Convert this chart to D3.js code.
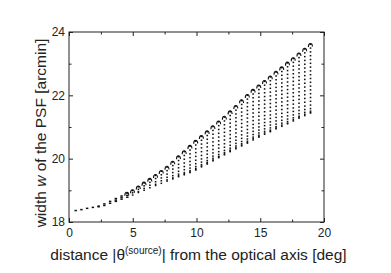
<!DOCTYPE html>
<html>
<head>
<meta charset="utf-8">
<script src="https://cdn.jsdelivr.net/npm/d3@7"></script>
<style>
  body { margin: 0; background: #fff; }
  svg { display: block; font-family: "Liberation Sans", Arial, Helvetica, sans-serif; }
</style>
</head>
<body>
<div id="chart"></div>
<script>
// PSF width vs. source distance from the optical axis

// column positions (deg) - one column of dots per source row
const colTheta = [0.5, 0.95, 1.4, 1.85, 2.3, 2.75, 3.2, 3.65, 4.1, 4.55, 5.0, 5.45, 5.9, 6.35, 6.8,
    7.25, 7.7, 8.15, 8.6, 9.05, 9.5, 9.95, 10.4, 10.85, 11.3, 11.75, 12.2, 12.65, 13.1, 13.55,
    14.0, 14.45, 14.9, 15.35, 15.8, 16.25, 16.7, 17.15, 17.6, 18.05, 18.5, 18.95];

// width w (arcmin) of the dots in each column, top to bottom
const colW = [
    [18.36],
    [18.39],
    [18.43],
    [18.46],
    [18.50, 18.48],
    [18.57, 18.52],
    [18.65, 18.59],
    [18.74, 18.69, 18.65],
    [18.82, 18.77, 18.72],
    [18.91, 18.84, 18.78],
    [18.99, 18.92, 18.85],
    [19.11, 19.03, 18.96, 18.93],
    [19.23, 19.14, 19.06, 19.00],
    [19.35, 19.25, 19.16, 19.08],
    [19.47, 19.37, 19.27, 19.19, 19.15],
    [19.60, 19.49, 19.39, 19.30, 19.22],
    [19.73, 19.62, 19.51, 19.41, 19.33, 19.29],
    [19.89, 19.78, 19.67, 19.56, 19.46, 19.39, 19.36],
    [20.06, 19.94, 19.82, 19.71, 19.60, 19.51, 19.46, 19.43],
    [20.22, 20.10, 19.98, 19.86, 19.75, 19.65, 19.56, 19.52, 19.49],
    [20.39, 20.27, 20.15, 20.03, 19.91, 19.80, 19.70, 19.62, 19.58, 19.56],
    [20.55, 20.43, 20.31, 20.19, 20.07, 19.95, 19.84, 19.75, 19.69, 19.66, 19.64],
    [20.70, 20.58, 20.46, 20.34, 20.22, 20.10, 19.99, 19.89, 19.81, 19.77, 19.74],
    [20.85, 20.73, 20.61, 20.49, 20.37, 20.25, 20.14, 20.03, 19.94, 19.88, 19.85, 19.83],
    [21.01, 20.89, 20.77, 20.65, 20.53, 20.41, 20.29, 20.18, 20.08, 20.01, 19.96, 19.93],
    [21.16, 21.04, 20.92, 20.80, 20.68, 20.56, 20.44, 20.33, 20.22, 20.13, 20.07, 20.05, 20.03],
    [21.31, 21.19, 21.07, 20.95, 20.83, 20.71, 20.59, 20.47, 20.36, 20.26, 20.19, 20.15, 20.12],
    [21.48, 21.36, 21.24, 21.12, 21.00, 20.88, 20.76, 20.64, 20.53, 20.42, 20.33, 20.27, 20.24, 20.22],
    [21.65, 21.53, 21.41, 21.29, 21.17, 21.05, 20.93, 20.81, 20.69, 20.58, 20.48, 20.40, 20.35, 20.31],
    [21.83, 21.71, 21.59, 21.47, 21.35, 21.23, 21.11, 20.99, 20.87, 20.75, 20.64, 20.54, 20.47, 20.43, 20.40],
    [22.00, 21.88, 21.76, 21.64, 21.52, 21.40, 21.28, 21.16, 21.04, 20.92, 20.81, 20.71, 20.62, 20.55, 20.51, 20.49],
    [22.16, 22.04, 21.92, 21.80, 21.68, 21.56, 21.44, 21.32, 21.20, 21.08, 20.97, 20.86, 20.76, 20.68, 20.63, 20.59],
    [22.30, 22.18, 22.06, 21.94, 21.82, 21.70, 21.58, 21.46, 21.34, 21.22, 21.11, 21.00, 20.90, 20.81, 20.74, 20.70, 20.68],
    [22.44, 22.32, 22.20, 22.08, 21.96, 21.84, 21.72, 21.60, 21.48, 21.36, 21.25, 21.14, 21.04, 20.94, 20.86, 20.81, 20.77],
    [22.58, 22.46, 22.34, 22.22, 22.10, 21.98, 21.86, 21.74, 21.62, 21.50, 21.38, 21.27, 21.16, 21.06, 20.97, 20.90, 20.87, 20.85],
    [22.73, 22.61, 22.49, 22.37, 22.25, 22.13, 22.01, 21.89, 21.77, 21.65, 21.53, 21.41, 21.30, 21.19, 21.09, 21.01, 20.97, 20.94],
    [22.87, 22.75, 22.63, 22.51, 22.39, 22.27, 22.15, 22.03, 21.91, 21.79, 21.67, 21.55, 21.43, 21.32, 21.21, 21.12, 21.06, 21.02],
    [23.02, 22.90, 22.78, 22.66, 22.54, 22.42, 22.30, 22.18, 22.06, 21.94, 21.82, 21.70, 21.58, 21.46, 21.35, 21.25, 21.17, 21.12, 21.10],
    [23.16, 23.04, 22.92, 22.80, 22.68, 22.56, 22.44, 22.32, 22.20, 22.08, 21.96, 21.84, 21.72, 21.60, 21.49, 21.38, 21.29, 21.23, 21.19],
    [23.31, 23.19, 23.07, 22.95, 22.83, 22.71, 22.59, 22.47, 22.35, 22.23, 22.11, 21.99, 21.87, 21.75, 21.63, 21.52, 21.42, 21.34, 21.30, 21.28],
    [23.46, 23.34, 23.22, 23.10, 22.98, 22.86, 22.74, 22.62, 22.50, 22.38, 22.26, 22.14, 22.02, 21.90, 21.78, 21.66, 21.55, 21.46, 21.40, 21.36],
    [23.61, 23.49, 23.37, 23.25, 23.13, 23.01, 22.89, 22.77, 22.65, 22.53, 22.41, 22.29, 22.17, 22.05, 21.93, 21.81, 21.69, 21.58, 21.50, 21.46, 21.44]
];

const xMajor = [0, 5, 10, 15, 20];
const xMinor = [2.5, 7.5, 12.5, 17.5];
const yMajor = [18, 20, 22, 24];
const yMinor = [19, 21, 23];

const width = 391, height = 273;
const margin = { top: 32, right: 67, bottom: 51, left: 69 };

const svg = d3.select("#chart").append("svg")
    .attr("width", width)
    .attr("height", height);

const x = d3.scaleLinear().domain([0, 20]).range([margin.left, width - margin.right]);
const y = d3.scaleLinear().domain([18, 24]).range([height - margin.bottom, margin.top]);

// flatten columns into points
const points = [];
colTheta.forEach((t, i) => {
    colW[i].forEach((w, j) => points.push({ t: t, w: w, top: j === 0 }));
});

// dots (small squares, like the printed markers)
svg.append("g")
    .attr("fill", "#111")
    .selectAll("rect")
    .data(points)
    .join("rect")
    .attr("x", d => x(d.t) - 0.9)
    .attr("y", d => y(d.w) - 0.8)
    .attr("width", d => d.t < 5 ? 2.4 : 1.6)
    .attr("height", 1.5);

// little hooks on top of each column
svg.append("g")
    .attr("fill", "none")
    .attr("stroke", "#111")
    .attr("stroke-width", 1.1)
    .selectAll("path")
    .data(points.filter(d => d.top && d.t > 4.5))
    .join("path")
    .attr("d", d => {
        const cx = x(d.t), cy = y(d.w);
        return `M${cx - 2.2},${cy + 2.6} C${cx - 2.2},${cy - 2} ${cx + 1.8},${cy - 2} ${cx + 1.8},${cy + 2.2}`;
    });

// axes - ticks point inward on all four sides
const bottom = height - margin.bottom, right = width - margin.right;

function styleAxis(g) {
    g.select(".domain").remove();
    g.selectAll(".tick line").attr("stroke", "#222");
    g.selectAll(".tick text").attr("fill", "#222").style("font-size", "12px");
}

svg.append("g").attr("transform", `translate(0,${bottom})`)
    .call(d3.axisBottom(x).tickValues(xMajor).tickSize(-4).tickPadding(6.5).tickFormat(d3.format("d")))
    .call(styleAxis);
svg.append("g").attr("transform", `translate(0,${bottom})`)
    .call(d3.axisBottom(x).tickValues(xMinor).tickSize(-2.5).tickFormat(""))
    .call(styleAxis);
svg.append("g").attr("transform", `translate(0,${margin.top})`)
    .call(d3.axisTop(x).tickValues(xMajor).tickSize(-4).tickFormat(""))
    .call(styleAxis);
svg.append("g").attr("transform", `translate(0,${margin.top})`)
    .call(d3.axisTop(x).tickValues(xMinor).tickSize(-2.5).tickFormat(""))
    .call(styleAxis);

svg.append("g").attr("transform", `translate(${margin.left},0)`)
    .call(d3.axisLeft(y).tickValues(yMajor).tickSize(-4).tickPadding(4).tickFormat(d3.format("d")))
    .call(styleAxis);
svg.append("g").attr("transform", `translate(${margin.left},0)`)
    .call(d3.axisLeft(y).tickValues(yMinor).tickSize(-2.5).tickFormat(""))
    .call(styleAxis);
svg.append("g").attr("transform", `translate(${right},0)`)
    .call(d3.axisRight(y).tickValues(yMajor).tickSize(-4).tickFormat(""))
    .call(styleAxis);
svg.append("g").attr("transform", `translate(${right},0)`)
    .call(d3.axisRight(y).tickValues(yMinor).tickSize(-2.5).tickFormat(""))
    .call(styleAxis);

// frame
svg.append("rect")
    .attr("x", margin.left).attr("y", margin.top)
    .attr("width", right - margin.left).attr("height", bottom - margin.top)
    .attr("fill", "none").attr("stroke", "#222").attr("stroke-width", 1);

// axis titles
const xt = svg.append("text")
    .attr("x", (margin.left + right) / 2 + 2)
    .attr("y", 260)
    .attr("text-anchor", "middle")
    .attr("fill", "#222")
    .style("font-size", "15.5px");
xt.append("tspan").text("distance |\u03B8");
xt.append("tspan").attr("dy", -6).style("font-size", "10px").text("(source)");
xt.append("tspan").attr("dy", 6).text("| from the optical axis [deg]");

const yt = svg.append("text")
    .attr("transform", `translate(45.5,${(margin.top + bottom) / 2 + 6}) rotate(-90)`)
    .attr("text-anchor", "middle")
    .attr("fill", "#222")
    .style("font-size", "15.5px");
yt.append("tspan").text("width ");
yt.append("tspan").style("font-style", "italic").text("w");
yt.append("tspan").text(" of the PSF [arcmin]");
</script>
</body>
</html>
